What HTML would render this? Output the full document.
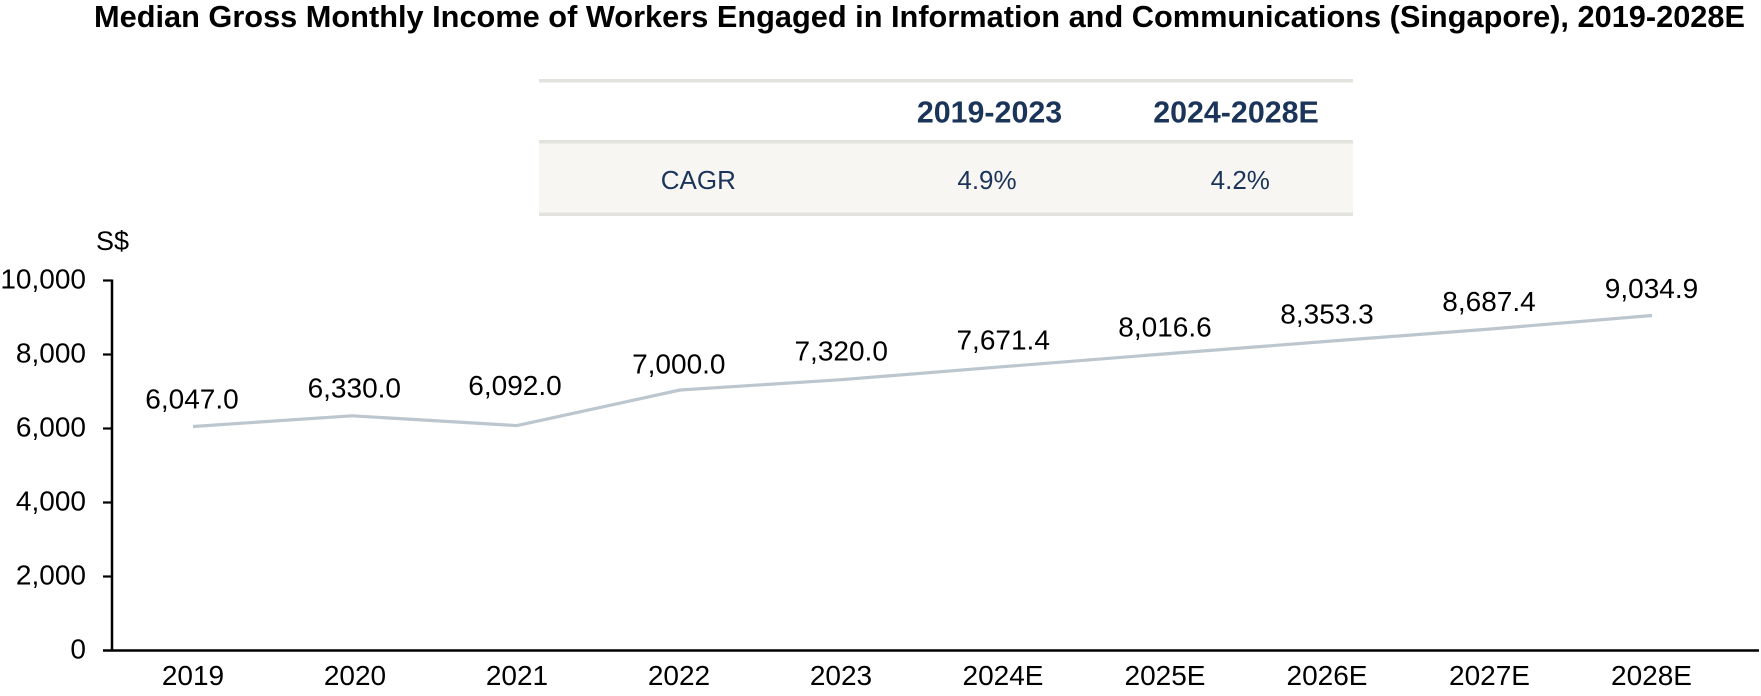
<!DOCTYPE html>
<html>
<head>
<meta charset="utf-8">
<style>
  html, body { margin: 0; padding: 0; background: #ffffff; }
  body { width: 1761px; height: 696px; overflow: hidden; }
  svg { display: block; }
  text { font-family: "Liberation Sans", Arial, sans-serif; }
</style>
</head>
<body>
<svg width="1761" height="696" viewBox="0 0 1761 696" xmlns="http://www.w3.org/2000/svg">
  <!-- Title -->
  <text x="94" y="27" font-size="30.5" font-weight="bold" fill="#000" textLength="1651" lengthAdjust="spacingAndGlyphs">Median Gross Monthly Income of Workers Engaged in Information and Communications (Singapore), 2019-2028E</text>

  <!-- CAGR table -->
  <rect x="539" y="79" width="814" height="3.5" fill="#e3e3dd"/>
  <rect x="539" y="143" width="814" height="70" fill="#f7f6f2"/>
  <rect x="539" y="140" width="814" height="3.5" fill="#e3e3dd"/>
  <rect x="539" y="212.5" width="814" height="3.5" fill="#e3e3dd"/>
  <text x="989.5" y="122.7" font-size="30.4" font-weight="bold" fill="#1b345a" text-anchor="middle">2019-2023</text>
  <text x="1236" y="122.7" font-size="30.4" font-weight="bold" fill="#1b345a" text-anchor="middle">2024-2028E</text>
  <text x="698.3" y="189" font-size="26" fill="#1b345a" text-anchor="middle">CAGR</text>
  <text x="987" y="189" font-size="26" fill="#1b345a" text-anchor="middle">4.9%</text>
  <text x="1240.3" y="189" font-size="26" fill="#1b345a" text-anchor="middle">4.2%</text>

  <!-- Unit label -->
  <text x="96" y="250" font-size="27" fill="#000">S$</text>

  <!-- Y axis -->
  <line x1="112" y1="279.5" x2="112" y2="651.5" stroke="#000" stroke-width="2.5"/>
  <g stroke="#000" stroke-width="2.2">
    <line x1="103" y1="280.5" x2="112" y2="280.5"/>
    <line x1="103" y1="354.5" x2="112" y2="354.5"/>
    <line x1="103" y1="428.5" x2="112" y2="428.5"/>
    <line x1="103" y1="502.5" x2="112" y2="502.5"/>
    <line x1="103" y1="576.5" x2="112" y2="576.5"/>
  </g>
  <!-- X axis -->
  <line x1="103" y1="650.5" x2="1759" y2="650.5" stroke="#000" stroke-width="2.5"/>

  <!-- Y tick labels -->
  <g font-size="28" fill="#000" text-anchor="end">
    <text x="86" y="288.5">10,000</text>
    <text x="86" y="362.5">8,000</text>
    <text x="86" y="436.5">6,000</text>
    <text x="86" y="510.5">4,000</text>
    <text x="86" y="584.5">2,000</text>
    <text x="86" y="658.5">0</text>
  </g>

  <!-- X labels -->
  <g font-size="28" fill="#000" text-anchor="middle">
    <text x="193" y="685">2019</text>
    <text x="355" y="685">2020</text>
    <text x="517" y="685">2021</text>
    <text x="679" y="685">2022</text>
    <text x="841" y="685">2023</text>
    <text x="1003" y="685">2024E</text>
    <text x="1165" y="685">2025E</text>
    <text x="1327" y="685">2026E</text>
    <text x="1489.5" y="685">2027E</text>
    <text x="1651.5" y="685">2028E</text>
  </g>

  <!-- Series line -->
  <polyline fill="none" stroke="#bcc6cf" stroke-width="3.2" stroke-linejoin="round"
    points="193,426.5 352,415.8 517,425.6 680,390 841,379.7 1003,366.7 1165,353.9 1327,341.4 1489,329.1 1652,315.5"/>

  <!-- Data labels -->
  <g font-size="28" fill="#000" text-anchor="middle">
    <text x="192" y="408.3">6,047.0</text>
    <text x="354.3" y="397.3">6,330.0</text>
    <text x="515" y="395">6,092.0</text>
    <text x="678.8" y="373.3">7,000.0</text>
    <text x="841.2" y="360.7">7,320.0</text>
    <text x="1003.2" y="349.3">7,671.4</text>
    <text x="1165" y="336.3">8,016.6</text>
    <text x="1327" y="323.6">8,353.3</text>
    <text x="1489" y="311">8,687.4</text>
    <text x="1651.5" y="298">9,034.9</text>
  </g>
</svg>
</body>
</html>
